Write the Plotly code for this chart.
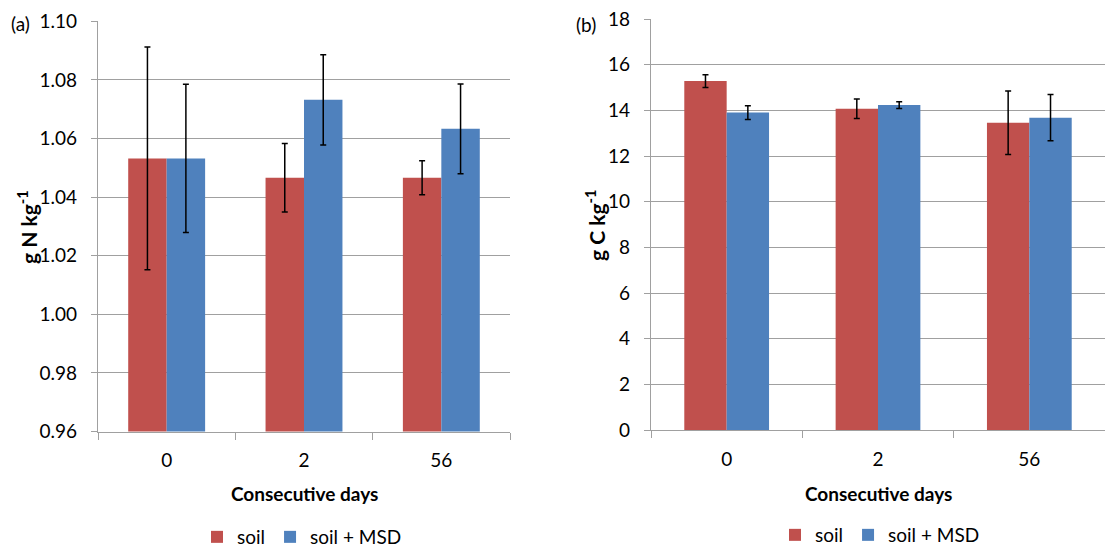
import plotly.graph_objects as go

days = ["0", "2", "56"]

n_soil = [1.0532, 1.0466, 1.0466]
n_soil_err = [0.0380, 0.0117, 0.0058]
n_msd = [1.0532, 1.0732, 1.0633]
n_msd_err = [0.0253, 0.0154, 0.0153]

c_soil = [15.28, 14.07, 13.46]
c_soil_err = [0.28, 0.43, 1.39]
c_msd = [13.90, 14.23, 13.68]
c_msd_err = [0.30, 0.15, 1.01]

RED = "#C0504D"
BLUE = "#4F81BD"
GRID = "#A0A0A0"
FONT = "Lato"

W, H = 1105, 549

fig = go.Figure()

def err(vals):
    return dict(type="data", array=vals, visible=True, color="black", thickness=1.5, width=3)

fig.add_trace(go.Bar(x=days, y=n_soil, error_y=err(n_soil_err), marker=dict(color=RED, line=dict(width=0)),
                     name="soil", xaxis="x", yaxis="y", legend="legend"))
fig.add_trace(go.Bar(x=days, y=n_msd, error_y=err(n_msd_err), marker=dict(color=BLUE, line=dict(width=0)),
                     name="soil + MSD", xaxis="x", yaxis="y", legend="legend"))
fig.add_trace(go.Bar(x=days, y=c_soil, error_y=err(c_soil_err), marker=dict(color=RED, line=dict(width=0)),
                     name="soil", xaxis="x2", yaxis="y2", legend="legend2"))
fig.add_trace(go.Bar(x=days, y=c_msd, error_y=err(c_msd_err), marker=dict(color=BLUE, line=dict(width=0)),
                     name="soil + MSD", xaxis="x2", yaxis="y2", legend="legend2"))

def px_x(p):
    return p / W

def px_y(p):
    return (H - p) / H

xcommon = dict(type="category", showline=True, linecolor=GRID, linewidth=1.3, ticks="outside",
               tickson="boundaries", ticklen=7, tickcolor=GRID, tickwidth=1.3, showgrid=False,
               automargin=False,
               tickfont=dict(family=FONT, size=19, color="black"), ticklabelstandoff=12)
ycommon = dict(showline=True, linecolor=GRID, linewidth=1.3, ticks="outside", ticklen=6,
               tickcolor=GRID, tickwidth=1.3, showgrid=True, gridcolor=GRID, gridwidth=1.3,
               automargin=False,
               zeroline=False, tickfont=dict(family=FONT, size=19, color="black"), ticklabelstandoff=10)

fig.update_layout(
    width=W, height=H,
    margin=dict(l=0, r=0, t=0, b=0, autoexpand=False),
    paper_bgcolor="white", plot_bgcolor="white",
    barmode="group", bargap=0.44, bargroupgap=0,
    font=dict(family=FONT, size=19, color="black"),
    xaxis=dict(domain=[px_x(98), px_x(510)], anchor="y", **xcommon),
    yaxis=dict(domain=[px_y(431.5), px_y(21.3)], anchor="x", range=[0.96, 1.10], dtick=0.02,
               tickformat=".2f", **ycommon),
    xaxis2=dict(domain=[px_x(651), 1.0], anchor="y2", **xcommon),
    yaxis2=dict(domain=[px_y(430), px_y(19)], anchor="x2", range=[0, 18], dtick=2, **ycommon),
    legend=dict(orientation="h", x=px_x(302), xanchor="center", y=px_y(537), yanchor="middle",
                font=dict(family=FONT, size=19), itemwidth=30, tracegroupgap=0, bgcolor="rgba(0,0,0,0)"),
    legend2=dict(orientation="h", x=px_x(880), xanchor="center", y=px_y(535), yanchor="middle",
                 font=dict(family=FONT, size=19), itemwidth=30, tracegroupgap=0, bgcolor="rgba(0,0,0,0)"),
    showlegend=True,
)

def ann(text, x, y, size=19, angle=0):
    return dict(text=text, x=px_x(x), y=px_y(y), xref="paper", yref="paper", xanchor="center",
                yanchor="middle", showarrow=False, textangle=angle, font=dict(family=FONT, size=size))

annotations = [
    ann("<b>Consecutive days</b>", 304, 493),
    ann("<b>Consecutive days</b>", 878, 493),
    ann("<b>g N kg<sup>-1</sup></b>", 27, 227, size=21, angle=-90),
    ann("<b>g C kg<sup>-1</sup></b>", 595, 225, size=21, angle=-90),
    ann("(a)", 20, 23),
    ann("(b)", 586, 25),
]
fig.update_layout(annotations=annotations)

fig.write_html("out.html")
